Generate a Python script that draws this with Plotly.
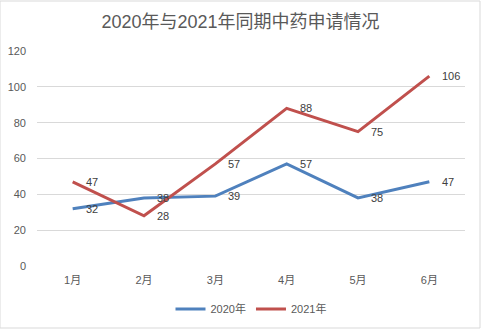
import plotly.graph_objects as go

months = ["1月", "2月", "3月", "4月", "5月", "6月"]
y2020 = [32, 38, 39, 57, 38, 47]
y2021 = [47, 28, 57, 88, 75, 106]
series_names = ["2020年", "2021年"]
yticks = [0, 20, 40, 60, 80, 100, 120]

FONT = "Liberation Sans, Noto Sans CJK SC, sans-serif"
fig = go.Figure()
annotations = []
for name, vals, col in [(series_names[0], y2020, "#4f81bd"), (series_names[1], y2021, "#c0504d")]:
    fig.add_trace(go.Scatter(
        x=months, y=vals, name=name, mode="lines",
        line=dict(color=col, width=3),
    ))
    for m, v in zip(months, vals):
        annotations.append(dict(x=m, y=v, xref="x", yref="y", text=str(v), showarrow=False,
                                xanchor="left", yanchor="middle", xshift=11, yshift=0,
                                font=dict(family=FONT, size=11, color="#404040")))

fig.update_layout(
    width=481, height=329,
    margin=dict(l=37, r=16, t=51, b=63, autoexpand=False),
    paper_bgcolor="white", plot_bgcolor="white",
    title=dict(text="2020年与2021年同期中药申请情况", x=0.5, xanchor="center",
               y=1 - 22 / 329, yanchor="middle",
               font=dict(family=FONT, size=18, color="#595959")),
    font=dict(family=FONT, size=11, color="#595959"),
    showlegend=True,
    legend=dict(orientation="h", x=0.5, xanchor="center", yref="container", y=20 / 329,
                yanchor="middle", font=dict(family=FONT, size=11, color="#595959"),
                itemwidth=30),
    xaxis=dict(range=[-0.5, 5.5], showgrid=False, showline=False, ticks="", ticklabelstandoff=6,
               automargin=False, tickfont=dict(size=11, color="#595959")),
    yaxis=dict(range=[0, 120], tickvals=yticks, showgrid=True, gridcolor="#d9d9d9", gridwidth=1,
               zeroline=False, showline=False, ticks="", ticklabelstandoff=10, automargin=False,
               tickfont=dict(size=11, color="#595959")),
    annotations=annotations,
    shapes=[dict(type="rect", xref="paper", yref="paper", x0=-37/428, x1=1+15/428,
                 y0=-62/215, y1=1+50/215, line=dict(color="#d9d9d9", width=1))],
)
fig.write_html("out.html")
